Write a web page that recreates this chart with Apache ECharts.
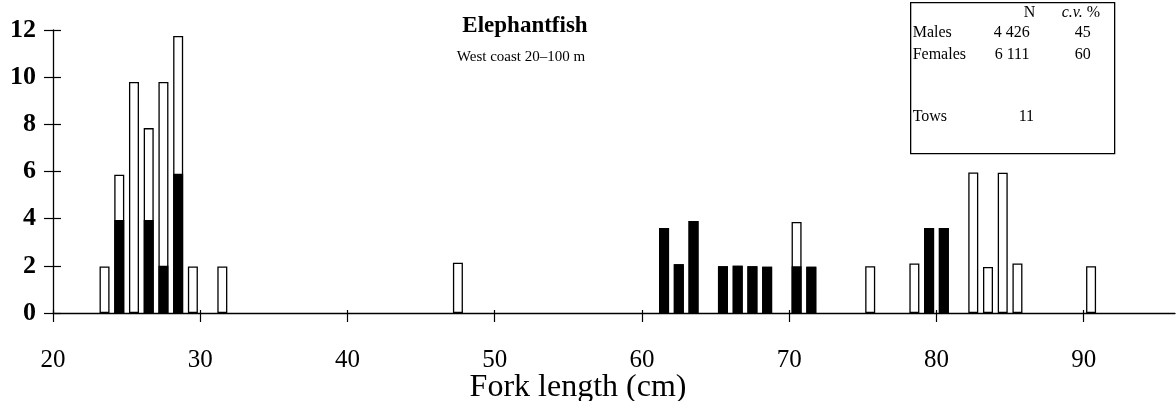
<!DOCTYPE html>
<html>
<head>
<meta charset="utf-8">
<script src="https://cdn.jsdelivr.net/npm/echarts@6/dist/echarts.min.js"></script>
<style>
  html, body { margin: 0; padding: 0; background: #fff; }
  #chart { width: 1176px; height: 401px; }
</style>
</head>
<body>
<div id="chart"></div>
<script>
// fork length bins (cm), bar sits in the middle of each 1 cm bin
var lengths = [23, 24, 25, 26, 27, 28, 29, 31, 47, 61, 62, 63, 65, 66, 67, 68, 70, 71, 75, 78, 79, 80, 82, 83, 84, 85, 90];
// black part of each bar
var males = [0, 3.94, 0, 3.94, 2.0, 5.9, 0, 0, 0, 3.6, 2.07, 3.9, 1.98, 2.0, 1.98, 1.96, 1.98, 1.96, 0, 0, 3.6, 3.6, 0, 0, 0, 0, 0];
// white part on top of the black
var females = [1.97, 1.92, 9.8, 3.9, 7.8, 5.85, 1.97, 1.97, 2.13, 0, 0, 0, 0, 0, 0, 0, 1.88, 0, 1.98, 2.1, 0, 0, 5.96, 1.95, 5.95, 2.1, 1.98];

var xTicks = [20, 30, 40, 50, 60, 70, 80, 90];
var yTicks = [0, 2, 4, 6, 8, 10, 12];

var font = 'Liberation Serif, Times New Roman, serif';

var chart = echarts.init(document.getElementById('chart'));

// white bar = whole bar height, black bar is drawn over its lower part
var totalData = lengths.map(function (l, i) { return [l + 0.5, males[i] + females[i]]; });
var maleData = lengths.map(function (l, i) { return [l + 0.5, males[i] > 0 ? males[i] : '-']; });

var option = {
  animation: false,
  backgroundColor: '#fff',
  textStyle: { fontFamily: font },
  grid: { left: 53, right: 1, top: 30, bottom: 88 },
  title: [
    {
      text: 'Elephantfish',
      left: 520, top: 10, textAlign: 'center',
      textStyle: { fontFamily: font, fontSize: 23, fontWeight: 'bold', color: '#000' }
    },
    {
      text: 'West coast 20\u2013100 m',
      left: 516, top: 45, textAlign: 'center',
      textStyle: { fontFamily: font, fontSize: 15, fontWeight: 'normal', color: '#000' }
    },
    {
      text: 'Fork length (cm)',
      left: 573, top: 367, textAlign: 'center',
      textStyle: { fontFamily: font, fontSize: 32, fontWeight: 'normal', color: '#000' }
    }
  ],
  xAxis: [
    {
      type: 'value', min: 20, max: 96.2, interval: 10,
      axisLine: { show: true, lineStyle: { color: '#000', width: 1.3 } },
      axisTick: { show: true, length: 9, customValues: xTicks, lineStyle: { color: '#000', width: 1.2 } },
      axisLabel: {
        margin: 35, fontSize: 25, color: '#000', fontFamily: font,
        customValues: xTicks
      },
      splitLine: { show: false }
    },
    {
      // inner half of the crossing ticks
      type: 'value', min: 20, max: 96.2, interval: 10, position: 'bottom',
      axisLine: { show: false },
      axisTick: { show: true, inside: true, length: 3, customValues: xTicks, lineStyle: { color: '#000', width: 1.2 } },
      axisLabel: { show: false },
      splitLine: { show: false }
    }
  ],
  yAxis: [
    {
      type: 'value', min: 0, max: 12, interval: 2,
      axisLine: { show: true, lineStyle: { color: '#000', width: 1.3 } },
      axisTick: { show: true, length: 9, lineStyle: { color: '#000', width: 1.2 } },
      axisLabel: {
        margin: 17, fontSize: 26, fontWeight: 'bold', color: '#000', fontFamily: font,
        formatter: function (v) { return yTicks.indexOf(v) >= 0 ? String(v) : ''; }
      },
      splitLine: { show: false }
    },
    {
      type: 'value', min: 0, max: 12, interval: 2, position: 'left',
      axisLine: { show: false },
      axisTick: { show: true, inside: true, length: 8, lineStyle: { color: '#000', width: 1.2 } },
      axisLabel: { show: false },
      splitLine: { show: false }
    }
  ],
  series: [
    {
      name: 'Total', type: 'bar', barWidth: 10, barGap: '-100%',
      itemStyle: { color: '#fff', borderColor: '#000', borderWidth: 1.3 },
      data: totalData
    },
    {
      name: 'Males', type: 'bar', barWidth: 10, barGap: '-100%',
      itemStyle: { color: '#000', borderColor: '#000', borderWidth: 1.3 },
      data: maleData
    }
  ],
  graphic: [
    {
      type: 'group', left: 910, top: 2,
      children: [
        { type: 'rect', shape: { x: 0, y: 0, width: 204, height: 151 },
          style: { fill: '#fff', stroke: '#000', lineWidth: 1.3 } },
        { type: 'text', x: 113, y: 2, style: { text: 'N', font: '16px ' + font, fill: '#000' } },
        { type: 'text', x: 151, y: 2, style: { text: '{i|c.v.} %', font: '16px ' + font, fill: '#000',
            rich: { i: { fontStyle: 'italic', fontSize: 16, fontFamily: font } } } },
        { type: 'text', x: 2, y: 22, style: { text: 'Males', font: '16px ' + font, fill: '#000' } },
        { type: 'text', x: 83, y: 22, style: { text: '4 426', font: '16px ' + font, fill: '#000' } },
        { type: 'text', x: 164, y: 22, style: { text: '45', font: '16px ' + font, fill: '#000' } },
        { type: 'text', x: 2, y: 44, style: { text: 'Females', font: '16px ' + font, fill: '#000' } },
        { type: 'text', x: 84, y: 44, style: { text: '6 111', font: '16px ' + font, fill: '#000' } },
        { type: 'text', x: 164, y: 44, style: { text: '60', font: '16px ' + font, fill: '#000' } },
        { type: 'text', x: 2, y: 106, style: { text: 'Tows', font: '16px ' + font, fill: '#000' } },
        { type: 'text', x: 108, y: 106, style: { text: '11', font: '16px ' + font, fill: '#000' } }
      ]
    }
  ]
};

chart.setOption(option);
window.onresize = chart.resize;
</script>
</body>
</html>
